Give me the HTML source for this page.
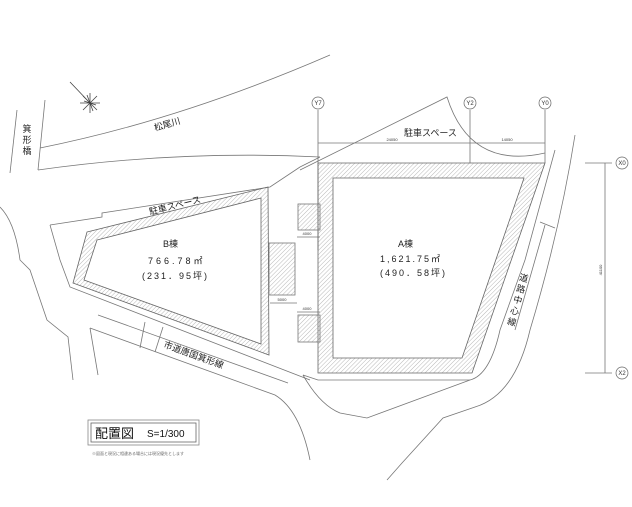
<!DOCTYPE html>
<html><head><meta charset="utf-8"><style>
html,body{margin:0;padding:0;background:#fff;}
svg{display:block;font-family:"Liberation Sans","Noto Sans CJK JP",sans-serif;}
</style></head><body>
<svg width="632" height="507" viewBox="0 0 632 507" xmlns="http://www.w3.org/2000/svg">
<defs>
<pattern id="h" width="3" height="3" patternUnits="userSpaceOnUse" patternTransform="rotate(45)">
<line x1="0" y1="0" x2="0" y2="3" stroke="#999" stroke-width="0.7"/>
</pattern>
</defs>
<g fill="none" stroke="#777" stroke-width="0.8">
<path d="M40,148 Q180,120 330,55"/>
<path d="M38,170 Q180,150 320,157"/>
<path d="M45,100 L38,170"/><path d="M17,110 L10,173"/>
<path d="M0,207 Q15,222 20,260 L30,270 L47,320 L68,337 L73,380"/>
<path d="M50,225 L102,217 L102,213 L270,187 L300,167 L320,157"/>
<path d="M50,225 L60,260 L70,287 L310,380"/>
<path d="M98,315 L288,383"/>
<path d="M90,328 L275,395 Q300,410 310,460"/>
<path d="M90,328 L98,375"/>
<path d="M145,322 L140,348"/><path d="M163,327 L155,352"/>
<path d="M300,170 L447,97 Q470,170 545,153"/>
<path d="M318,110 L318,250"/><path d="M470,110 L470,163"/><path d="M545,110 L545,163"/>
<path d="M318,143 L545,143"/>
<path d="M585,163 L612,163"/><path d="M585,373 L612,373"/><path d="M605,163 L605,373"/>
<path d="M575,135 Q560,230 530,330 Q515,395 475,407 L443,418 L402,463 L387,480"/>
<path d="M555,150 L525,260 L500,330 Q490,375 470,380 L318,380 L303,375"/>
<path d="M303,375 Q320,405 340,413 L367,418 L470,380"/>
<path d="M545,225 L515,330"/>
<path d="M540,222 L555,228"/>
<path d="M297,237 L320,237"/><path d="M270,303 L297,303"/><path d="M297,312 L320,312"/>
</g>
<path d="M87,232 L268,187 L269,355 L73,283 Z M97,240 L261,198 L261,344 L84,280 Z" fill="url(#h)" fill-rule="evenodd" stroke="#666" stroke-width="0.8"/>
<path d="M318,163 L545,163 L472,373 L318,373 Z M333,178 L524,178 L462,358 L333,358 Z" fill="url(#h)" fill-rule="evenodd" stroke="#666" stroke-width="0.8"/>
<rect x="298" y="204" width="22" height="26" fill="url(#h)" stroke="#777" stroke-width="0.8"/>
<rect x="269" y="243" width="26" height="52" fill="url(#h)" stroke="#777" stroke-width="0.8"/>
<rect x="298" y="315" width="22" height="27" fill="url(#h)" stroke="#777" stroke-width="0.8"/>
<g fill="#fff" stroke="#666" stroke-width="0.7">
<circle cx="318" cy="103" r="6"/><circle cx="470" cy="103" r="6"/><circle cx="545" cy="103" r="6"/>
<circle cx="622" cy="163" r="6"/><circle cx="622" cy="373" r="6"/>
</g>
<g font-size="6" fill="#333" text-anchor="middle">
<text x="318" y="105">Y7</text><text x="470" y="105">Y2</text><text x="545" y="105">Y0</text>
<text x="622" y="165">X0</text><text x="622" y="375">X2</text>
<text x="392" y="141" font-size="4">24050</text><text x="507" y="141" font-size="4">14050</text>
<text x="307" y="235" font-size="4">4000</text><text x="282" y="301" font-size="4">5000</text><text x="307" y="310" font-size="4">4000</text>
<text x="602" y="270" font-size="4" transform="rotate(-90 602 270)">41100</text>
</g>
<g stroke="#444" stroke-width="0.8">
<path d="M70,82 L90,103 M80,103 L100,103 M90,93 L90,113 M83,96 L97,110 M97,96 L83,110 M85,98 L95,108 M84,101 L96,105 M87,95 L93,111"/>
</g>
<g fill="#222" font-size="9">
<text x="155" y="131" transform="rotate(-16 155 131)">松尾川</text>
<text x="150" y="215" transform="rotate(-14 150 215)">駐車スペース</text>
<text x="404" y="136">駐車スペース</text>
<text x="163" y="247">B棟</text>
<text x="148" y="264" letter-spacing="3">766.78㎡</text>
<text x="142" y="279" letter-spacing="2">(231．95坪)</text>
<text x="398" y="247">A棟</text>
<text x="380" y="262" letter-spacing="2">1,621.75㎡</text>
<text x="380" y="276" letter-spacing="2">(490．58坪)</text>
<text x="163" y="347" transform="rotate(20 163 347)">市道唐国箕形線</text>
</g>
<g fill="#222" font-size="9" text-anchor="middle">
<text x="27" y="132">箕</text><text x="27" y="143">形</text><text x="27" y="154">橋</text>
<text x="523" y="281" transform="rotate(15 523 281)">道</text>
<text x="520" y="292" transform="rotate(15 520 292)">路</text>
<text x="517" y="303" transform="rotate(15 517 303)">中</text>
<text x="514" y="314" transform="rotate(15 514 314)">心</text>
<text x="511" y="325" transform="rotate(15 511 325)">線</text>
</g>
<rect x="88" y="420" width="111" height="25" fill="none" stroke="#888" stroke-width="0.8"/>
<rect x="91" y="423" width="105" height="19" fill="none" stroke="#666" stroke-width="0.8"/>
<text x="95" y="438" font-size="13" fill="#111">配置図</text>
<text x="147" y="437" font-size="10" fill="#111">S=1/300</text>
<text x="92" y="455" font-size="4" fill="#666">※図面と現況に相違ある場合には現況優先とします</text>
</svg>
</body></html>
